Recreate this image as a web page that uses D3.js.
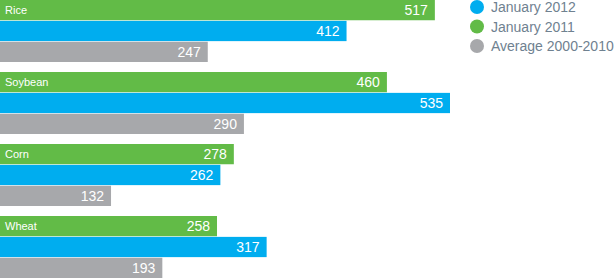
<!DOCTYPE html>
<html>
<head>
<meta charset="utf-8">
<script src="https://cdn.jsdelivr.net/npm/d3@7"></script>
<style>
	body { margin: 0; background: #fff; }
	svg { display: block; font-family: "Liberation Sans", Arial, sans-serif; }
</style>
</head>
<body>
<div class="bar-chart"></div>
<script>
var crops = ["Rice", "Soybean", "Corn", "Wheat"];
var jan2011 = [517, 460, 278, 258];
var jan2012 = [412, 535, 262, 317];
var avg2000_2010 = [247, 290, 132, 193];

var seriesNames = ["January 2011", "January 2012", "Average 2000-2010"];
var legendNames = ["January 2012", "January 2011", "Average 2000-2010"];

var width = 615,
	height = 279;

var colors = {
	"January 2011": "#62bb47",
	"January 2012": "#00adef",
	"Average 2000-2010": "#a7a8ab"
};

var svg = d3.select(".bar-chart").append("svg")
	.attr("width", width)
	.attr("height", height);

// scales
var x = d3.scaleLinear().domain([0, 535]).range([0, 450]);
var y0 = d3.scaleBand().domain(crops).range([0, 288]);
var y1 = d3.scaleBand().domain(seriesNames).range([0, 62]).paddingInner(0.03);

var rows = crops.map(function (c, i) {
	return {
		crop: c,
		values: [
			{ key: "January 2011", value: jan2011[i] },
			{ key: "January 2012", value: jan2012[i] },
			{ key: "Average 2000-2010", value: avg2000_2010[i] }
		]
	};
});

var group = svg.selectAll(".group")
	.data(rows)
	.enter().append("g")
	.attr("class", "group")
	.attr("transform", function (d) {
		return "translate(0," + y0(d.crop) + ")";
	});

var bar = group.selectAll(".bar")
	.data(function (d) { return d.values; })
	.enter().append("g")
	.attr("class", "bar");

bar.append("rect")
	.attr("x", 0)
	.attr("y", function (d) { return y1(d.key); })
	.attr("width", function (d) { return x(d.value); })
	.attr("height", y1.bandwidth())
	.attr("fill", function (d) { return colors[d.key]; });

// value labels, right aligned inside the bar end
bar.append("text")
	.attr("x", function (d) { return x(d.value) - 7; })
	.attr("y", function (d) { return y1(d.key) + y1.bandwidth() / 2; })
	.attr("dy", "0.36em")
	.attr("text-anchor", "end")
	.attr("fill", "#fff")
	.style("font-size", "14px")
	.text(function (d) { return d.value; });

// crop name in the top bar
group.append("text")
	.attr("x", 5)
	.attr("y", y1("January 2011") + y1.bandwidth() / 2)
	.attr("dy", "0.36em")
	.attr("fill", "#fff")
	.style("font-size", "11px")
	.text(function (d) { return d.crop; });

// legend
var legend = svg.selectAll(".legend")
	.data(legendNames)
	.enter().append("g")
	.attr("class", "legend")
	.attr("transform", function (d, i) {
		return "translate(477," + (7 + i * 19.5) + ")";
	});

legend.append("circle")
	.attr("r", 7)
	.attr("fill", function (d) { return colors[d]; });

legend.append("text")
	.attr("x", 14)
	.attr("dy", "0.36em")
	.attr("fill", "#6f8190")
	.style("font-size", "14px")
	.text(function (d) { return d; });
</script>
</body>
</html>
